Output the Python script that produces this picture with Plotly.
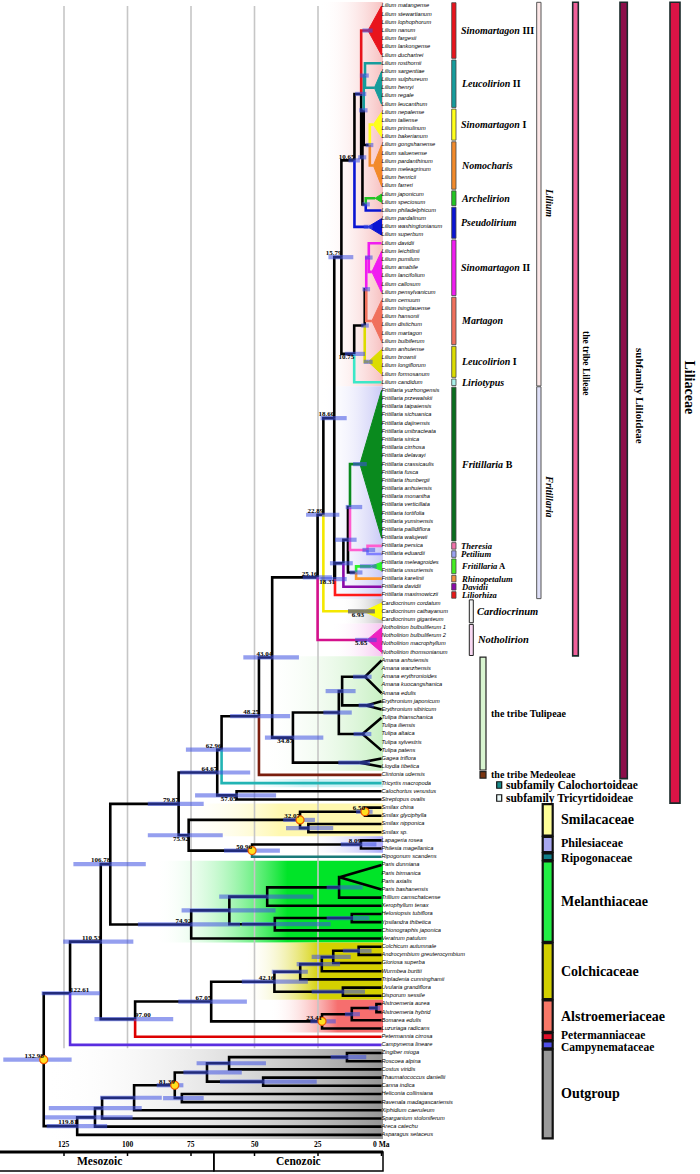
import plotly.graph_objects as go

# ============================================================ DATA
tips = [
    "Lilium matangense", "Lilium stewartianum", "Lilium lophophorum", "Lilium nanum", "Lilium fargesii",
    "Lilium lankongense", "Lilium duchartrei", "Lilium rosthornii", "Lilium sargentiae", "Lilium sulphureum",
    "Lilium henryi", "Lilium regale", "Lilium leucanthum", "Lilium nepalense", "Lilium taliense",
    "Lilium primulinum", "Lilium bakerianum", "Lilium gongshanense", "Lilium saluenense", "Lilium pardanthinum",
    "Lilium meleagrinum", "Lilium henricii", "Lilium farreri", "Lilium japonicum", "Lilium speciosum",
    "Lilium philadelphicum", "Lilium pardalinum", "Lilium washingtonianum", "Lilium superbum", "Lilium davidii",
    "Lilium leichtlinii", "Lilium pumilum", "Lilium amabile", "Lilium lancifolium", "Lilium callosum",
    "Lilium pensylvanicum", "Lilium cernuum", "Lilium tsingtauense", "Lilium hansonii", "Lilium distichum",
    "Lilium martagon", "Lilium bulbiferum", "Lilium anhuiense", "Lilium brownii", "Lilium longiflorum",
    "Lilium formosanum", "Lilium candidum",
    "Fritillaria yuzhongensis", "Fritillaria przewalskii", "Fritillaria taipaiensis", "Fritillaria sichuanica",
    "Fritillaria dajinensis", "Fritillaria unibracteata", "Fritillaria sinica", "Fritillaria cirrhosa",
    "Fritillaria delavayi", "Fritillaria crassicaulis", "Fritillaria fusca", "Fritillaria thunbergii",
    "Fritillaria anhuiensis", "Fritillaria monantha", "Fritillaria verticillata", "Fritillaria tortifolia",
    "Fritillaria yuminensis", "Fritillaria pallidiflora", "Fritillaria walujewii", "Fritillaria persica",
    "Fritillaria eduardii", "Fritillaria meleagroides", "Fritillaria ussuriensis", "Fritillaria karelinii",
    "Fritillaria davidii", "Fritillaria maximowiczii",
    "Cardiocrinum cordatum", "Cardiocrinum cathayanum", "Cardiocrinum giganteum",
    "Notholirion bulbuliferum 1", "Notholirion bulbuliferum 2", "Notholirion macrophyllum", "Notholirion thomsonianum",
    "Amana anhuiensis", "Amana wanzhensis", "Amana erythronioides", "Amana kuocangshanica", "Amana edulis",
    "Erythronium japonicum", "Erythronium sibiricum",
    "Tulipa thianschanica", "Tulipa iliensis", "Tulipa altaica", "Tulipa sylvestris", "Tulipa patens",
    "Gagea triflora", "Lloydia tibetica", "Clintonia udensis", "Tricyrtis macropoda", "Calochortus venustus",
    "Streptopus ovalis", "Smilax china", "Smilax glyciphylla", "Smilax nipponica", "Smilax sp.",
    "Lapageria rosea", "Philesia magellanica", "Ripogonum scandens",
    "Paris dunniana", "Paris birmanica", "Paris axialis", "Paris bashanensis", "Trillium camschatcense",
    "Xerophyllum tenax", "Heloniopsis tubiflora", "Ypsilandra thibetica", "Chionographis japonica",
    "Veratrum patulum", "Colchicum autumnale", "Androcymbium greuterocymbium", "Gloriosa superba",
    "Wurmbea burttii", "Tripladenia cunninghamii", "Uvularia grandiflora", "Disporum sessile",
    "Alstroemeria aurea", "Alstroemeria hybrid", "Bomarea edulis", "Luzuriaga radicans",
    "Petermannia cirrosa", "Campynema lineare", "Zingiber mioga", "Roscoea alpina", "Costus viridis",
    "Thaumatococcus daniellii", "Canna indica", "Heliconia collinsiana", "Ravenala madagascariensis",
    "Xiphidium caeruleum", "Sparganium stoloniferum", "Areca catechu", "Asparagus setaceus",
]

# internal nodes (children listed top -> bottom), ages in Ma, 95% HPD
node_names = [
    "LeucII", "SinoINomo", "N3", "N4", "N2", "N1", "LA",
    "SinoIIn", "SM", "SL", "LB", "LIL",
    "TP", "F3", "F4", "F2", "F1", "FRIT", "LF", "LC", "LCN",
    "AE", "AET", "TUL", "LIL43", "LIL48", "LIL63", "CS57", "LIL64",
    "S6", "S29", "SMI", "PH8", "PHR", "SPR", "LS",
    "P17", "P45", "HY", "HYC", "M60", "MEL", "LSM",
    "CA", "CAG", "CAGW", "CT", "UD", "COL", "AA", "AAB", "ALS", "CALS", "CALP",
    "LIL110", "LILIALES",
    "ZR", "ZRC", "TC", "ZING1", "HR", "ZINGALES", "COMM", "CSP", "CSA", "OUT", "ROOT",
]
node_children = [
    ["Lilium rosthornii", "T:LeucII"], ["T:SinoI", "T:Nomocharis"], ["LeucII", "SinoINomo"],
    ["T:Archelirion", "Lilium philadelphicum"], ["N3", "N4"], ["T:SinoIII", "N2"], ["N1", "T:Pseudolirium"],
    ["Lilium davidii", "T:SinoII"], ["SinoIIn", "T:Martagon"], ["SM", "T:LeucI"], ["SL", "Lilium candidum"],
    ["LA", "LB"],
    ["Fritillaria persica", "Fritillaria eduardii"], ["T:FritB", "TP"], ["T:FritA", "Fritillaria karelinii"],
    ["F3", "F4"], ["F2", "Fritillaria davidii"], ["F1", "Fritillaria maximowiczii"], ["LIL", "FRIT"],
    ["LF", "T:Cardiocrinum"], ["LC", "T:Notholirion"],
    ["T:Amana", "T:Erythronium"], ["AE", "T:Tulipa"], ["AET", "T:GageaLloydia"], ["LCN", "TUL"],
    ["LIL43", "Clintonia udensis"], ["LIL48", "Tricyrtis macropoda"],
    ["Calochortus venustus", "Streptopus ovalis"], ["LIL63", "CS57"],
    ["Smilax china", "Smilax glyciphylla"], ["Smilax nipponica", "Smilax sp."], ["S6", "S29"],
    ["Lapageria rosea", "Philesia magellanica"], ["PH8", "Ripogonum scandens"], ["SMI", "PHR"],
    ["LIL64", "SPR"],
    ["T:Paris", "Trillium camschatcense"], ["P17", "Xerophyllum tenax"],
    ["Heloniopsis tubiflora", "Ypsilandra thibetica"], ["HY", "Chionographis japonica"], ["P45", "HYC"],
    ["M60", "Veratrum patulum"], ["LS", "MEL"],
    ["Colchicum autumnale", "Androcymbium greuterocymbium"], ["CA", "Gloriosa superba"],
    ["CAG", "Wurmbea burttii"], ["CAGW", "Tripladenia cunninghamii"],
    ["Uvularia grandiflora", "Disporum sessile"], ["CT", "UD"],
    ["Alstroemeria aurea", "Alstroemeria hybrid"], ["AA", "Bomarea edulis"], ["AAB", "Luzuriaga radicans"],
    ["COL", "ALS"], ["CALS", "Petermannia cirrosa"],
    ["LSM", "CALP"], ["LIL110", "Campynema lineare"],
    ["Zingiber mioga", "Roscoea alpina"], ["ZR", "Costus viridis"], ["Thaumatococcus daniellii", "Canna indica"],
    ["ZRC", "TC"], ["Heliconia collinsiana", "Ravenala madagascariensis"], ["ZING1", "HR"],
    ["ZINGALES", "Xiphidium caeruleum"], ["COMM", "Sparganium stoloniferum"], ["CSP", "Areca catechu"],
    ["CSA", "Asparagus setaceus"], ["LILIALES", "OUT"],
]
node_ages = [
    6.5, 4.6, 7.0, 6.2, 7.5, 8.0, 10.65,
    5.0, 6.0, 6.6, 10.75, 15.79,
    5.5, 12.4, 10.0, 13.2, 15.0, 18.31, 18.60, 22.89, 25.16,
    15.5, 16.8, 34.87, 43.04, 48.25, 62.96, 57.05, 64.67,
    6.50, 28.8, 32.07, 8.09, 50.96, 75.92, 79.87,
    16.7, 45.0, 11.7, 42.0, 59.9, 74.92, 106.78,
    9.0, 19.0, 23.5, 32.0, 15.2, 42.16, 2.0, 11.7, 23.41, 67.05, 97.00,
    110.53, 122.61,
    13.6, 60.0, 46.6, 68.7, 78.6, 81.39, 97.4, 110.0, 112.8, 119.81, 132.98,
]
node_hpd_lo = [
    5.0, 3.2, 5.5, 4.6, 6.0, 6.0, 8.5,
    3.5, 4.5, 5.0, 6.5, 11.1,
    2.5, 7.6, 7.5, 9.8, 11.3, 13.7, 13.7, 16.6, 19.5,
    10.2, 11.7, 22.9, 32.5, 36.0, 51.5, 41.5, 51.7,
    3.5, 19.0, 26.2, 2.0, 40.0, 62.5, 70.0,
    7.4, 26.9, 4.8, 20.0, 41.7, 55.7, 92.8,
    3.9, 12.1, 16.3, 29.0, 6.5, 29.0, 0.5, 8.5, 18.0, 53.0, 82.0,
    97.7, 110.8,
    6.0, 45.5, 25.5, 55.0, 70.0, 78.0, 86.5, 94.4, 98.0, 108.0, 122.0,
]
node_hpd_hi = [
    8.5, 6.2, 8.8, 7.6, 9.2, 10.4, 13.0,
    6.5, 7.5, 8.0, 14.4, 20.9,
    7.5, 14.1, 12.5, 18.3, 20.3, 24.0, 24.0, 29.7, 31.0,
    22.0, 22.9, 45.9, 54.4, 59.6, 77.0, 73.4, 79.3,
    10.0, 37.6, 38.7, 16.0, 62.0, 92.0, 92.0,
    21.6, 63.9, 21.6, 55.0, 78.7, 95.9, 121.3,
    15.2, 27.5, 33.4, 43.2, 27.5, 55.0, 5.0, 14.4, 28.0, 80.0, 113.0,
    125.3, 133.8,
    20.0, 72.8, 63.6, 78.0, 86.0, 88.5, 110.8, 131.0, 132.5, 131.8, 148.9,
]

# collapsed clades (triangles): first / last tip index, crown age, HPD
tri_names = ["T:SinoIII", "T:LeucII", "T:SinoI", "T:Nomocharis", "T:Archelirion", "T:Pseudolirium",
             "T:SinoII", "T:Martagon", "T:LeucI", "T:FritB", "T:FritA", "T:Cardiocrinum", "T:Notholirion",
             "T:Amana", "T:Erythronium", "T:Tulipa", "T:GageaLloydia", "T:Paris"]
tri_first = [0, 8, 13, 17, 23, 26, 30, 36, 42, 47, 68, 73, 76, 80, 85, 87, 92, 105]
tri_last = [6, 12, 16, 22, 24, 28, 35, 41, 45, 65, 69, 75, 79, 84, 86, 91, 93, 108]
tri_ages = [5.3, 2.8, 3.2, 3.2, 2.5, 5.3, 3.8, 3.8, 5.2, 8.5, 4.2, 6.93, 5.65, 6.5, 6.0, 7.5, 8.5, 16.5]
tri_hpd_lo = [3.5, None, None, None, None, 3.5, None, None, 3.5, 5.8, 1.9, 2.6, 1.9, 3.9, 3.0, 4.0, 4.5, None]
tri_hpd_hi = [7.5, None, None, None, None, 7.0, None, None, 7.0, 11.2, 8.5, 13.2, 10.4, 11.2, 9.0, 11.0, 17.0, None]

age_label_nodes = ["ROOT", "LILIALES", "OUT", "LIL110", "LSM", "CALP", "LS", "SPR", "MEL", "LIL64", "LIL63",
                   "CS57", "LIL48", "LIL43", "TUL", "LCN", "LC", "LF", "FRIT", "LIL", "LA", "LB",
                   "T:Cardiocrinum", "T:Notholirion", "SMI", "S6", "PHR", "PH8", "ZINGALES", "COL", "CALS", "ALS"]
calibration_nodes = ["ROOT", "ZINGALES", "SMI", "S6", "PHR", "ALS"]

clade_names = ["Sinomartagon III", "Leucolirion II", "Sinomartagon I", "Nomocharis", "Archelirion",
               "Pseudolirium", "Sinomartagon II", "Martagon", "Leucolirion I", "Liriotypus", "Fritillaria B",
               "Theresia", "Petilium", "Fritillaria A", "Rhinopetalum", "Davidii", "Liliorhiza",
               "Cardiocrinum", "Notholirion"]
clade_first = [0, 7, 13, 17, 23, 25, 29, 36, 42, 46, 47, 66, 67, 68, 70, 71, 72, 73, 76]
clade_last = [6, 12, 16, 22, 24, 28, 35, 41, 45, 46, 65, 66, 67, 69, 70, 71, 72, 75, 79]

genus_names = ["Lilium", "Fritillaria"]
genus_first = [0, 47]
genus_last = [46, 72]

rank_names = ["the tribe Lilieae", "subfamily Lilioideae", "Liliaceae"]
rank_first = [0, 0, 0]
rank_last = [79, 94, 97]

tribe_names = ["the tribe Tulipeae", "the tribe Medeoleae"]
tribe_first = [80, 94]
tribe_last = [93, 94]

subfamily_names = ["subfamily Calochortoideae", "subfamily Tricyrtidoideae"]

family_names = ["Smilacaceae", "Philesiaceae", "Ripogonaceae", "Melanthiaceae", "Colchicaceae",
                "Alstroemeriaceae", "Petermanniaceae", "Campynemataceae", "Outgroup"]
family_first = [98, 102, 104, 105, 115, 122, 126, 127, 128]
family_last = [101, 103, 104, 114, 121, 125, 126, 127, 138]

time_ticks = [125, 100, 75, 50, 25, 0]
grid_ticks = [125, 100, 75, 50, 25]
era_names = ["Mesozoic", "Cenozoic"]
kpg_boundary = 66.0

# ============================================================ STYLE / LAYOUT HELPERS
SERIF = "Liberation Serif"
SANS = "Liberation Sans"
W, H = 700, 1174
PX_PER_MA, X_ZERO = 2.54, 381.5
Y_TOP, ROW = 6.0, 8.18


def ax(px):
    return (X_ZERO - px) / PX_PER_MA


def ay(py):
    return (py - Y_TOP) / ROW


col = {
    "SinoIII": "#e8141c", "LeucII": "#169c9c", "SinoI": "#ffff1a", "Nomocharis": "#f28a2a",
    "Archelirion": "#22c422", "Pseudolirium": "#0a14d2", "SinoII": "#f01cf0", "Martagon": "#f0705c",
    "LeucI": "#dcdc00", "Liriotypus": "#3ce8c8", "FritB": "#0a8a1e", "Theresia": "#ff5ecf",
    "Petilium": "#8080ff", "FritA": "#2ef02e", "Rhinopetalum": "#ff9a2e", "Davidii": "#8a0aa8",
    "Liliorhiza": "#ff1a1a", "Cardiocrinum": "#ffff00", "Notholirion": "#e010a8",
}
branch_color = {
    "T:SinoIII": col["SinoIII"], "LeucII": col["LeucII"], "Lilium rosthornii": col["LeucII"],
    "T:LeucII": col["LeucII"], "T:SinoI": col["SinoI"], "T:Nomocharis": col["Nomocharis"],
    "T:Archelirion": col["Archelirion"], "Lilium philadelphicum": col["Pseudolirium"],
    "T:Pseudolirium": col["Pseudolirium"], "SinoIIn": col["SinoII"], "Lilium davidii": col["SinoII"],
    "T:SinoII": col["SinoII"], "T:Martagon": col["Martagon"], "T:LeucI": col["LeucI"],
    "Lilium candidum": col["Liriotypus"], "T:FritB": col["FritB"], "TP": col["Theresia"],
    "Fritillaria persica": col["Theresia"], "Fritillaria eduardii": col["Petilium"], "T:FritA": col["FritA"],
    "Fritillaria karelinii": col["Rhinopetalum"], "Fritillaria davidii": col["Davidii"],
    "Fritillaria maximowiczii": col["Liliorhiza"], "T:Cardiocrinum": "#f4e800",
    "T:Notholirion": "#d4108c", "Clintonia udensis": "#7a1e0e", "Tricyrtis macropoda": "#22b4b4",
    "Ripogonum scandens": "#1a7a7a", "Petermannia cirrosa": "#dd0000", "Campynema lineare": "#5a2ee0",
}
tri_fill = {
    "T:SinoIII": col["SinoIII"], "T:LeucII": col["LeucII"], "T:SinoI": col["SinoI"],
    "T:Nomocharis": col["Nomocharis"], "T:Archelirion": col["Archelirion"],
    "T:Pseudolirium": col["Pseudolirium"], "T:SinoII": col["SinoII"], "T:Martagon": col["Martagon"],
    "T:LeucI": col["LeucI"], "T:FritB": col["FritB"], "T:FritA": col["FritA"],
    "T:Cardiocrinum": col["Cardiocrinum"], "T:Notholirion": "#ee22c0",
}
clade_bar_color = [col["SinoIII"], col["LeucII"], col["SinoI"], col["Nomocharis"], col["Archelirion"],
                   col["Pseudolirium"], col["SinoII"], col["Martagon"], col["LeucI"], "#a8f0e8", "#0a6e1e",
                   "#f070a8", "#9aa0f0", "#44ee22", "#f09040", "#8a0aa8", "#e81818", "#f4f4f4", "#f8d8f2"]
small_clades = ["Theresia", "Petilium", "Fritillaria A", "Rhinopetalum", "Davidii", "Liliorhiza"]
family_color = ["#ffff99", "#a8a8f0", "#10808a", "#22ee44", "#d2d000", "#f87868", "#e0102a", "#5050e8", "#9a9a9a"]
family_font = [14, 12, 12, 14, 14, 14, 11.5, 11.5, 14]
family_dy = [0, -0.15, 0.2, 0, 0, 0, -0.15, 0.35, 0]

# background shading (tip range, age where shading starts, colour, fraction where full colour reached)
band_first = [0, 47, 73, 76, 80, 95, 98, 102, 105, 115, 122, 128]
band_last = [46, 72, 75, 79, 93, 95, 101, 103, 114, 121, 125, 138]
band_start = [24, 24, 16, 20, 48, 62, 80, 30, 89, 54, 44, 133]
band_color = ["rgb(247,192,192)", "rgb(200,200,246)", "rgb(190,190,190)", "rgb(246,196,240)",
              "rgb(200,240,195)", "rgb(205,242,246)", "rgb(255,248,175)", "rgb(170,170,250)",
              "rgb(0,228,40)", "rgb(212,208,0)", "rgb(246,110,110)", "rgb(150,150,150)"]
band_ramp = [1.0, 1.0, 1.0, 1.0, 1.0, 0.5, 0.5, 1.0, 0.58, 0.55, 0.6, 1.0]

label_pos = {"SPR": "bottom left", "CS57": "bottom left", "FRIT": "bottom left", "T:Cardiocrinum": "bottom left",
             "T:Notholirion": "bottom left", "TUL": "bottom left", "LB": "bottom left",
             "LILIALES": "top right", "CALP": "top right"}

# ============================================================ GEOMETRY FROM DATA
assert len(node_names) == len(node_children) == len(node_ages) == len(node_hpd_lo) == len(node_hpd_hi)
ypos = {t: float(i) for i, t in enumerate(tips)}
agepos = {t: 0.0 for t in tips}
for n, f, l, a in zip(tri_names, tri_first, tri_last, tri_ages):
    ypos[n] = (f + l) / 2.0
    agepos[n] = a
kids = dict(zip(node_names, node_children))
for n, a in zip(node_names, node_ages):
    agepos[n] = a


def y_of(n):
    if n in ypos:
        return ypos[n]
    ch = kids[n]
    v = (y_of(ch[0]) + y_of(ch[-1])) / 2.0
    ypos[n] = v
    return v


for n in node_names:
    y_of(n)

fig = go.Figure()
AX_LEFT, AX_RIGHT = ax(0), ax(W)
END = ax(383)

# --- background gradient bands
for f, l, a0, c, r in zip(band_first, band_last, band_start, band_color, band_ramp):
    y1, y2 = f - 0.5, l + 0.5
    cs = [[0, "rgba(255,255,255,0)"], [r, c], [1, c]] if r < 1 else [[0, "rgba(255,255,255,0)"], [1, c]]
    fig.add_trace(go.Scatter(x=[a0, END, END, a0, a0], y=[y1, y1, y2, y2, y1], mode="lines",
                             fill="toself", line=dict(width=0),
                             fillgradient=dict(type="horizontal", colorscale=cs, start=a0, stop=END),
                             hoverinfo="skip", showlegend=False))

# --- grid lines
gx, gy = [], []
for t in grid_ticks:
    gx += [t, t, None]
    gy += [0, tips.index("Campynema lineare") + 0.4, None]
fig.add_trace(go.Scatter(x=gx, y=gy, mode="lines", line=dict(color="#c6c6c6", width=1.6),
                         hoverinfo="skip", showlegend=False))

# --- triangles
for n, f, l, a in zip(tri_names, tri_first, tri_last, tri_ages):
    ym = ypos[n]
    if n in tri_fill:
        fig.add_trace(go.Scatter(x=[a, 0, 0, a], y=[ym, f, l, ym], mode="lines", fill="toself",
                                 fillcolor=tri_fill[n], line=dict(color=tri_fill[n], width=1),
                                 hoverinfo="skip", showlegend=False))
    else:
        fig.add_trace(go.Scatter(x=[0, a, 0], y=[f, ym, l], mode="lines",
                                 line=dict(color="black", width=2.6),
                                 hoverinfo="skip", showlegend=False))

# --- branches
segs = {}
for p in node_names:
    for c in kids[p]:
        cc = branch_color.get(c, "black")
        xs, ys = segs.setdefault(cc, ([], []))
        xs += [agepos[p], agepos[p], agepos[c], None]
        ys += [ypos[p], ypos[c], ypos[c], None]
for cc in ["black"] + [k for k in segs if k != "black"]:
    xs, ys = segs[cc]
    fig.add_trace(go.Scatter(x=xs, y=ys, mode="lines", line=dict(color=cc, width=2.6),
                             hoverinfo="skip", showlegend=False))

# --- HPD bars
hx, hy, gxh, gyh = [], [], [], []
for n, lo, hi in zip(node_names, node_hpd_lo, node_hpd_hi):
    hx += [lo, hi, None]
    hy += [ypos[n], ypos[n], None]
for n, lo, hi in zip(tri_names, tri_hpd_lo, tri_hpd_hi):
    if lo is None:
        continue
    if n == "T:Cardiocrinum":
        gxh += [lo, hi, None]
        gyh += [ypos[n], ypos[n], None]
    else:
        hx += [lo, hi, None]
        hy += [ypos[n], ypos[n], None]
fig.add_trace(go.Scatter(x=hx, y=hy, mode="lines", line=dict(color="rgba(62,80,225,0.55)", width=4.2),
                         hoverinfo="skip", showlegend=False))
fig.add_trace(go.Scatter(x=gxh, y=gyh, mode="lines", line=dict(color="rgba(110,110,110,0.85)", width=4.2),
                         hoverinfo="skip", showlegend=False))

# --- calibration points
fig.add_trace(go.Scatter(x=[agepos[n] for n in calibration_nodes], y=[ypos[n] for n in calibration_nodes],
                         mode="markers", marker=dict(size=8, color="#ffe020", line=dict(color="#f05a00", width=1.2)),
                         hoverinfo="skip", showlegend=False))

# --- node age labels
groups = {}
for n in age_label_nodes:
    pos = label_pos.get(n, "top left")
    g = groups.setdefault(pos, ([], [], []))
    g[0].append(agepos[n])
    g[1].append(ypos[n])
    g[2].append(f"{agepos[n]:.2f}")
for pos, (xs, ys, ts) in groups.items():
    fig.add_trace(go.Scatter(x=xs, y=ys, mode="text", text=ts, textposition=pos,
                             textfont=dict(family=SERIF, size=7, color="black", weight="bold"),
                             hoverinfo="skip", showlegend=False))

# --- tip labels
fig.add_trace(go.Scatter(x=[0.0] * len(tips), y=list(range(len(tips))), mode="text", text=tips,
                         textposition="middle right",
                         textfont=dict(family=SANS, size=5.7, color="black", style="italic"),
                         hoverinfo="skip", showlegend=False))

shapes = []
annos = []


def rect(x0px, x1px, y0, y1, fill, lw=1.0, lc="#333333"):
    shapes.append(dict(type="rect", xref="x", yref="y", x0=ax(x0px), x1=ax(x1px), y0=y0, y1=y1,
                       fillcolor=fill, line=dict(color=lc, width=lw), layer="above"))


def note(xpx, y, text, size, xanchor="left", angle=0):
    annos.append(dict(x=ax(xpx), y=y, xref="x", yref="y", text=text, showarrow=False, xanchor=xanchor,
                      yanchor="middle", textangle=angle, borderpad=0,
                      font=dict(family=SERIF, size=size, color="black")))


def clade_html(name):
    parts = name.split(" ")
    if parts[-1] in ("I", "II", "III", "A", "B"):
        return "<b><i>" + " ".join(parts[:-1]) + "</i> " + parts[-1] + "</b>"
    return "<b><i>" + name + "</i></b>"


# --- clade bars and labels
for name, f, l, c in zip(clade_names, clade_first, clade_last, clade_bar_color):
    if name in ("Cardiocrinum", "Notholirion"):
        rect(469.3, 473.3, f - 0.4, l + 0.4, c, 1.0, "#222222")
        note(476, (f + l) / 2, clade_html(name), 10.5)
    else:
        rect(451.7, 456, f - 0.4, l + 0.4, c, 0.8, "#444444")
        note(460, (f + l) / 2, clade_html(name), 8.6 if name in small_clades else 10)

# --- genus bars
for name, f, l, c, ty in zip(genus_names, genus_first, genus_last, ["#fde8e8", "#dfe0f8"], [203, 496]):
    rect(536.7, 541, f - 0.45, l + 0.45, c, 1.0, "#555555")
    note(549.7, ay(ty), "<b><i>" + name + "</i></b>", 10, "center", 90)

# --- rank bars
rank_x = [(572.7, 578.3), (620, 627.3), (670, 680)]
rank_c = ["#f0609a", "#8c0f4a", "#dc1446"]
rank_tx = [586, 640, 689.5]
rank_ty = [363, 396, 387]
rank_sz = [9.5, 11, 14]
for name, f, l, (x0, x1), c, tx, ty, sz in zip(rank_names, rank_first, rank_last, rank_x, rank_c,
                                              rank_tx, rank_ty, rank_sz):
    rect(x0, x1, f - 0.45, l + 0.45, c, 1.6, "#1a2a2a")
    note(tx, ay(ty), "<b>" + name + "</b>", sz, "center", 90)

# --- tribes
for name, f, l, c in zip(tribe_names, tribe_first, tribe_last, ["#d8f5d0", "#7a3410"]):
    rect(480, 486, f - 0.4, l + 0.4, c, 1.2, "#222222")
    note(490, (f + l) / 2, "<b>" + name + "</b>", 10)

# --- subfamily legend boxes
for name, c, py in zip(subfamily_names, ["#1a8c8c", "#eaf8f8"], [785, 798]):
    shapes.append(dict(type="rect", xref="x", yref="y", x0=ax(496.7), x1=ax(501.7), y0=ay(py) - 0.4,
                       y1=ay(py) + 0.4, fillcolor=c, line=dict(color="#111111", width=1.2), layer="above"))
    note(505, ay(py), "<b>" + name + "</b>", 11.5)

# --- families
for name, f, l, c, fs, dy in zip(family_names, family_first, family_last, family_color, family_font, family_dy):
    rect(542.7, 552.7, f - 0.42, l + 0.42, c, 2.2, "#111111")
    note(560, (f + l) / 2 + dy, "<b>" + name + "</b>", fs)

# --- time axis
ya = ay(1152)
yb = ay(1171)
shapes.append(dict(type="rect", xref="x", yref="y", x0=AX_LEFT + 1, x1=kpg_boundary, y0=ya, y1=yb,
                   line=dict(color="black", width=1.5), fillcolor="rgba(0,0,0,0)"))
shapes.append(dict(type="rect", xref="x", yref="y", x0=kpg_boundary, x1=END, y0=ya, y1=yb,
                   line=dict(color="black", width=1.5), fillcolor="rgba(0,0,0,0)"))
shapes.append(dict(type="line", xref="x", yref="y", x0=AX_LEFT, x1=END, y0=ya, y1=ya,
                   line=dict(color="black", width=2.8)))
for t in time_ticks:
    shapes.append(dict(type="line", xref="x", yref="y", x0=t, x1=t, y0=ya, y1=ay(1156),
                       line=dict(color="black", width=1.5)))
    annos.append(dict(x=t, y=ay(1144), xref="x", yref="y", text="<b>" + (f"{t}" if t else "0 Ma") + "</b>",
                      showarrow=False, xanchor="center", yanchor="middle", borderpad=0,
                      font=dict(family=SERIF, size=7.5, color="black")))
era_x = [(AX_LEFT + kpg_boundary) / 2 + 3, (kpg_boundary + END) / 2]
for name, x in zip(era_names, era_x):
    annos.append(dict(x=x, y=ay(1161), xref="x", yref="y", text="<b>" + name + "</b>", showarrow=False,
                      xanchor="center", yanchor="middle", borderpad=0,
                      font=dict(family=SERIF, size=11.5, color="black")))

fig.update_layout(
    width=W, height=H, margin=dict(l=0, r=0, t=0, b=0),
    paper_bgcolor="white", plot_bgcolor="white", showlegend=False,
    xaxis=dict(range=[AX_LEFT, AX_RIGHT], visible=False, fixedrange=True),
    yaxis=dict(range=[ay(H), ay(0)], visible=False, fixedrange=True),
    shapes=shapes, annotations=annos,
)
fig.write_html("out.html", config={"displayModeBar": False},
               post_script="document.body.style.margin='0';document.body.style.overflow='hidden';")
